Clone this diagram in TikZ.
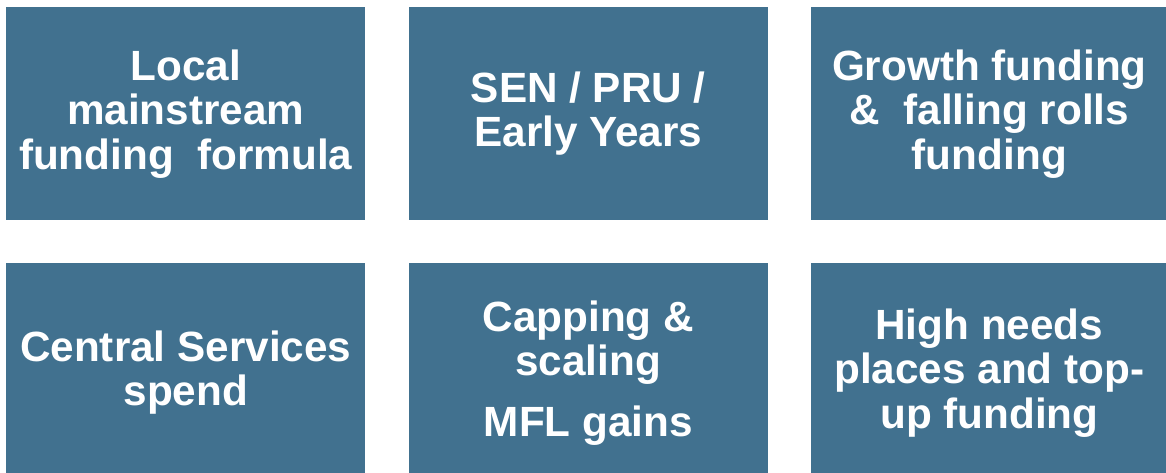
\documentclass[tikz,border=0pt]{standalone}
\usepackage{fontspec}
\setmainfont{Liberation Sans}
\usetikzlibrary{positioning}
\definecolor{fundblue}{RGB}{65,113,143}
\tikzset{fundbox/.style = {fill = fundblue, text = white, align = center,
                           font = \bfseries\fontsize{31.7}{33.4}\selectfont,
                           inner sep = 0, minimum width = 269.25pt,
                           minimum height = 159.75pt}}
\tikzset{lowbox/.style = {minimum height = 164.25pt}}
\tikzset{narrowbox/.style = {minimum width = 267pt}}

\begin{document}
\begin{tikzpicture}[x = 0.75pt, y = -0.75pt, node distance = 32.25pt]
    \useasboundingbox (0, 0) rectangle (1166, 472);

    % top row
    \node [fundbox, anchor = north west] (formula) at (6, 7)
      {Local\\ mainstream\\ funding~~formula};
    \node [fundbox, right = of formula] (sen) {SEN / PRU /\\ Early Years};
    \node [fundbox, narrowbox, right = of sen] (growth)
      {Growth funding\\ \&~~falling rolls\\ funding};

    % bottom row, runs off the lower edge
    \node [fundbox, lowbox, anchor = north west] (central) at (6, 263)
      {Central Services\\ spend};
    \node [fundbox, lowbox, right = of central] (capping)
      {Capping \&\\ scaling\\[12pt] MFL gains};
    \node [fundbox, lowbox, narrowbox, right = of capping] (highneeds)
      {High needs\\ places and top-\\ up funding};
  \end{tikzpicture}
\end{document}
